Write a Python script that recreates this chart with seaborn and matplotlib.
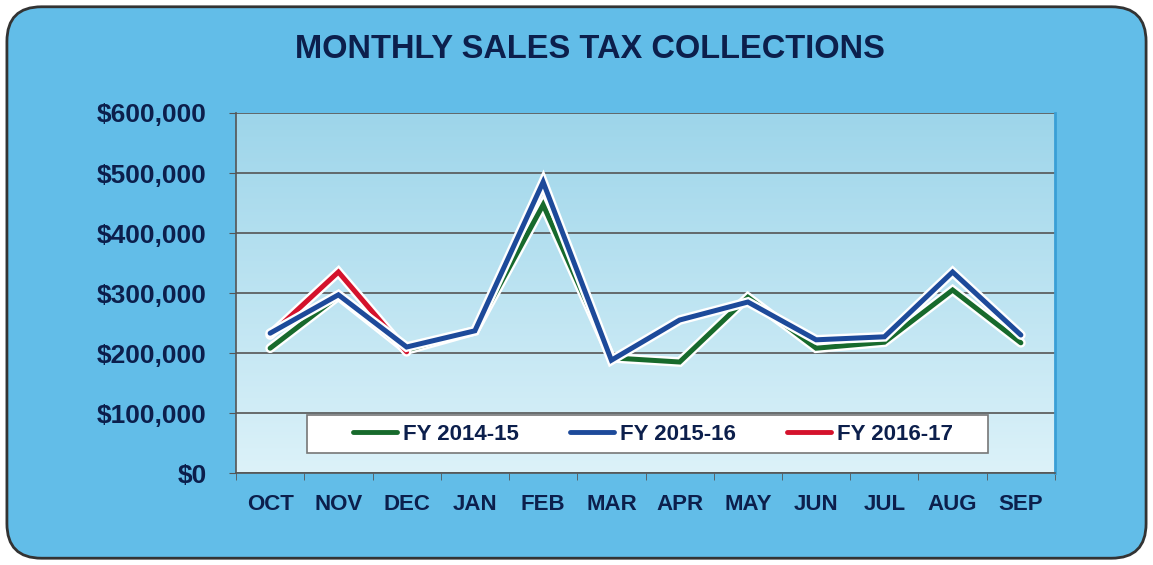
import numpy as np
import pandas as pd
import seaborn as sns
import matplotlib.pyplot as plt
import matplotlib.patheffects as pe
from matplotlib.patches import FancyBboxPatch, Rectangle
from matplotlib.colors import LinearSegmentedColormap

sns.set_style('ticks')
plt.rcParams['font.family'] = ['Liberation Sans', 'DejaVu Sans']

months = ['OCT', 'NOV', 'DEC', 'JAN', 'FEB', 'MAR', 'APR', 'MAY', 'JUN', 'JUL', 'AUG', 'SEP']
fy1415 = [208000, 295000, 205000, 237000, 447000, 192000, 185000, 293000, 208000, 218000, 305000, 217000]
fy1516 = [233000, 297000, 210000, 237000, 485000, 188000, 255000, 285000, 222000, 227000, 335000, 230000]
fy1617 = [230000, 335000, 202000]
series_names = ['FY 2014-15', 'FY 2015-16', 'FY 2016-17']
colors = ['#176a2c', '#1d4a9a', '#d4122c']
navy = '#0c1f4c'

rows = []
for name, vals in zip(series_names, [fy1415, fy1516, fy1617]):
    for m, v in zip(months, vals):
        rows.append({'month': m, 'sales': v, 'year': name})
df = pd.DataFrame(rows)

fig = plt.figure(figsize=(11.53, 5.65), dpi=100)
fig.patch.set_facecolor('white')
bg = FancyBboxPatch((0.006, 0.012), 0.988, 0.976, boxstyle='round,pad=0,rounding_size=0.03',
                    transform=fig.transFigure, facecolor='#62bde8', edgecolor='#333333',
                    linewidth=2, mutation_aspect=1153 / 565, zorder=-10)
fig.patches.append(bg)

ax = fig.add_axes([0.2047, 0.1628, 0.7103, 0.6372])
ax.set_facecolor('none')
grad = np.linspace(0, 1, 256).reshape(-1, 1)
cm = LinearSegmentedColormap.from_list('pa', ['#9dd5ea', '#dcf2f9'])
ax.imshow(grad, aspect='auto', cmap=cm, extent=[0, 1, 0, 1], transform=ax.transAxes, zorder=0)

sns.lineplot(data=df, x='month', y='sales', hue='year', palette=colors, sort=False,
             linewidth=3.6, ax=ax, legend=False)
# blue on top, then red, green at the bottom
for line, z in zip(ax.get_lines(), [3, 5, 4]):
    line.set_zorder(z)
    line.set_path_effects([pe.Stroke(linewidth=7, foreground='white'), pe.Normal()])
    line.set_solid_joinstyle('miter')

ax.set_xlim(-0.5, 11.5)
ax.set_ylim(0, 600000)
ax.set_yticks(range(0, 600001, 100000))
ax.set_yticklabels(['$0', '$100,000', '$200,000', '$300,000', '$400,000', '$500,000', '$600,000'])
ax.yaxis.grid(True, color='#555555', linewidth=1.2, zorder=1)
ax.set_axisbelow(True)
ax.set_xticks(range(12))
ax.set_xticklabels(months)
ax.set_xticks(np.arange(-0.5, 12, 1), minor=True)
ax.tick_params(axis='x', which='major', length=0, pad=15)
ax.tick_params(axis='x', which='minor', length=5, color='#555555')
ax.tick_params(axis='y', length=5, color='#555555', pad=16)
for lab in ax.get_xticklabels():
    lab.set_fontsize(16); lab.set_fontweight('bold'); lab.set_color(navy)
for lab in ax.get_yticklabels():
    lab.set_fontsize(19); lab.set_fontweight('bold'); lab.set_color(navy)
ax.set_xlabel('')
ax.set_ylabel('')
for s in ['left', 'bottom']:
    ax.spines[s].set_color('#555555')
    ax.spines[s].set_linewidth(1.2)
ax.spines['top'].set_visible(False)
ax.spines['right'].set_color('#3a9fd6')
ax.spines['right'].set_linewidth(2)

# legend box
ax.add_patch(Rectangle((0.0867, 0.0556), 0.8315, 0.1056, transform=ax.transAxes,
                       facecolor='white', edgecolor='#777777', linewidth=1.2, zorder=6))
handles = [plt.Line2D([], [], color=c, linewidth=3.5) for c in colors]
leg = ax.legend(handles, series_names, ncol=3, loc='center', bbox_to_anchor=(0.509, 0.108),
                frameon=False, handlelength=2.0, handletextpad=0.25, columnspacing=2.3,
                prop={'weight': 'bold', 'size': 16})
for t in leg.get_texts():
    t.set_color(navy)
leg.set_zorder(7)

fig.text(0.512, 0.912, 'MONTHLY SALES TAX COLLECTIONS', ha='center', va='center',
         fontsize=23.5, fontweight='bold', color=navy)

fig.savefig('out.png', dpi=100)
